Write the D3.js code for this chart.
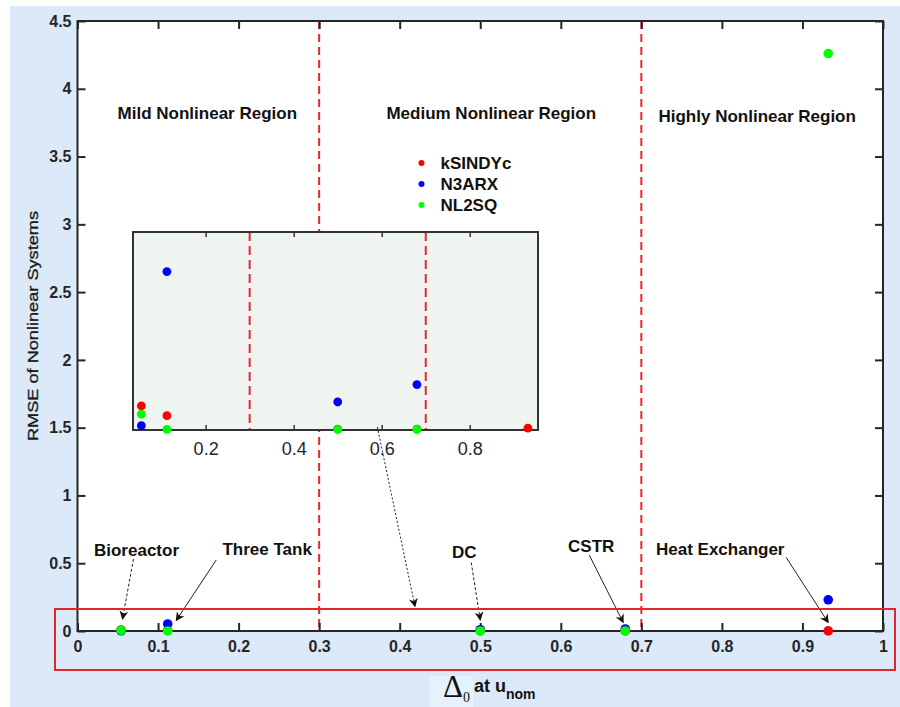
<!DOCTYPE html>
<html>
<head>
<meta charset="utf-8">
<script src="https://cdn.jsdelivr.net/npm/d3@7"></script>
<style>
body { margin: 0; background: #fff; }
svg { display: block; }
text { font-family: "Liberation Sans", Arial, Helvetica, sans-serif; fill: #262626; }
</style>
</head>
<body>
<div id="vis"></div>
<script>
var width = 900;
var height = 707;

// data
var systems = ['Bioreactor', 'Three Tank', 'DC', 'CSTR', 'Heat Exchanger'];
var delta0 = [0.054, 0.112, 0.5, 0.68, 0.932];
var methods = ['kSINDYc', 'N3ARX', 'NL2SQ'];
var kSINDYc = [0.0079, 0.0047, 0.0003, 0.0003, 0.0006];
var N3ARX = [0.0014, 0.052, 0.0092, 0.0149, 0.23];
var NL2SQ = [0.0052, 0.0002, 0.0002, 0.0002, 4.26];
var regionBounds = [0.3, 0.7];
var regionNames = ['Mild Nonlinear Region', 'Medium Nonlinear Region', 'Highly Nonlinear Region'];
var regionMid = [0.15, 0.5, 0.85];
var xTicks = [0, 0.1, 0.2, 0.3, 0.4, 0.5, 0.6, 0.7, 0.8, 0.9, 1];
var xTickLabels = ['0', '0.1', '0.2', '0.3', '0.4', '0.5', '0.6', '0.7', '0.8', '0.9', '1'];
var yTicks = [0, 0.5, 1, 1.5, 2, 2.5, 3, 3.5, 4, 4.5];
var yTickLabels = ['0', '0.5', '1', '1.5', '2', '2.5', '3', '3.5', '4', '4.5'];
var insetTicks = [0.2, 0.4, 0.6, 0.8];
var insetTickLabels = ['0.2', '0.4', '0.6', '0.8'];

var colors = ['#ff0000', '#0000ff', '#00ff00'];
var series = [kSINDYc, N3ARX, NL2SQ];

var svg = d3.select('#vis').append('svg')
    .attr('width', width)
    .attr('height', height);

// arrowheads
var defs = svg.append('defs');
defs.append('marker')
    .attr('id', 'arr')
    .attr('viewBox', '0 0 10 10')
    .attr('refX', 9).attr('refY', 5)
    .attr('markerUnits', 'userSpaceOnUse')
    .attr('markerWidth', 9).attr('markerHeight', 9)
    .attr('orient', 'auto')
    .append('path')
    .attr('d', 'M0,0 L10,5 L0,10 L3,5 Z')
    .attr('fill', '#111');

// page background
svg.append('rect')
    .attr('x', 10).attr('y', 6)
    .attr('width', width - 10).attr('height', height - 6)
    .attr('fill', '#dce9f8');

var x = d3.scaleLinear().domain([0, 1]).range([77.5, 883]);
var y = d3.scaleLinear().domain([0, 4.5]).range([631, 21]);

// plot area
svg.append('rect')
    .attr('x', x(0)).attr('y', y(4.5))
    .attr('width', x(1) - x(0)).attr('height', y(0) - y(4.5))
    .attr('fill', '#fff');

// region boundaries
svg.append('g').selectAll('line')
    .data(regionBounds)
    .enter().append('line')
    .attr('x1', function (d) { return x(d); })
    .attr('x2', function (d) { return x(d); })
    .attr('y1', y(4.5)).attr('y2', y(0))
    .attr('stroke', '#e8262c')
    .attr('stroke-width', 2)
    .attr('stroke-dasharray', '8,5');

// axes, ticks pointing in
function styleAxis(g) {
    g.select('.domain').remove();
    g.selectAll('.tick line').attr('stroke', '#262626').attr('stroke-width', 2);
    g.selectAll('.tick text')
        .attr('fill', '#262626')
        .style('font-size', '16px')
        .style('font-weight', 'bold');
}
svg.append('g')
    .attr('transform', 'translate(0,' + y(0) + ')')
    .call(d3.axisBottom(x).tickValues(xTicks)
        .tickFormat(function (d, i) { return xTickLabels[i]; })
        .tickSize(-8).tickPadding(10))
    .call(styleAxis);
svg.append('g')
    .attr('transform', 'translate(0,' + y(4.5) + ')')
    .call(d3.axisTop(x).tickValues(xTicks).tickFormat('').tickSize(-8))
    .call(styleAxis);
svg.append('g')
    .attr('transform', 'translate(' + x(0) + ',0)')
    .call(d3.axisLeft(y).tickValues(yTicks)
        .tickFormat(function (d, i) { return yTickLabels[i]; })
        .tickSize(-8).tickPadding(6))
    .call(styleAxis);
svg.append('g')
    .attr('transform', 'translate(' + x(1) + ',0)')
    .call(d3.axisRight(y).tickValues(yTicks).tickFormat('').tickSize(-8))
    .call(styleAxis);

svg.append('rect')
    .attr('x', x(0)).attr('y', y(4.5))
    .attr('width', x(1) - x(0)).attr('height', y(0) - y(4.5))
    .attr('fill', 'none')
    .attr('stroke', '#262626')
    .attr('stroke-width', 2);

// region names
var regionDx = [9, 11, -5];
var regionY = [118.5, 118.5, 122];
svg.append('g').selectAll('text')
    .data(regionNames)
    .enter().append('text')
    .attr('x', function (d, i) { return x(regionMid[i]) + regionDx[i]; })
    .attr('y', function (d, i) { return regionY[i]; })
    .attr('text-anchor', 'middle')
    .style('font-size', '17px')
    .style('font-weight', 'bold')
    .style('fill', '#111')
    .text(function (d) { return d; });

// main points
var points = [];
series.forEach(function (s, m) {
    s.forEach(function (v, i) {
        points.push({ m: m, x: delta0[i], v: v });
    });
});
svg.append('g').selectAll('circle')
    .data(points)
    .enter().append('circle')
    .attr('cx', function (d) { return x(d.x); })
    .attr('cy', function (d) { return y(d.v); })
    .attr('r', 4.8)
    .attr('fill', function (d) { return colors[d.m]; });

// legend
var legend = svg.append('g').selectAll('g')
    .data(methods)
    .enter().append('g')
    .attr('transform', function (d, i) { return 'translate(421.5,' + (163 + i * 21) + ')'; });
legend.append('circle')
    .attr('r', 3)
    .attr('fill', function (d, i) { return colors[i]; });
legend.append('text')
    .attr('x', 19).attr('dy', '0.36em')
    .style('font-size', '17px')
    .style('font-weight', 'bold')
    .style('fill', '#111')
    .text(function (d) { return d; });

// inset zoom of the lower band
var xi = d3.scaleLinear().domain([0.035, 0.955]).range([133, 538]);
var yi = d3.scaleLinear().domain([0, 0.065]).range([430, 232]);
var inset = svg.append('g');
inset.append('rect')
    .attr('x', xi.range()[0]).attr('y', yi.range()[1])
    .attr('width', xi.range()[1] - xi.range()[0])
    .attr('height', yi.range()[0] - yi.range()[1])
    .attr('fill', '#eef5f1');
inset.append('g').selectAll('line')
    .data(regionBounds)
    .enter().append('line')
    .attr('x1', function (d) { return xi(d); })
    .attr('x2', function (d) { return xi(d); })
    .attr('y1', yi.range()[1]).attr('y2', yi.range()[0])
    .attr('stroke', '#e8262c')
    .attr('stroke-width', 2)
    .attr('stroke-dasharray', '9,5');
inset.append('g')
    .attr('transform', 'translate(0,' + yi(0) + ')')
    .call(d3.axisBottom(xi).tickValues(insetTicks)
        .tickFormat(function (d, i) { return insetTickLabels[i]; })
        .tickSize(-5).tickPadding(12))
    .call(function (g) {
        g.select('.domain').remove();
        g.selectAll('.tick line').attr('stroke', '#333').attr('stroke-width', 1.5);
        g.selectAll('.tick text').attr('fill', '#333').style('font-size', '18px');
    });
inset.append('g')
    .attr('transform', 'translate(0,' + yi.range()[1] + ')')
    .call(d3.axisTop(xi).tickValues(insetTicks).tickFormat('').tickSize(-5))
    .call(function (g) {
        g.select('.domain').remove();
        g.selectAll('.tick line').attr('stroke', '#333').attr('stroke-width', 1.5);
    });
inset.append('rect')
    .attr('x', xi.range()[0]).attr('y', yi.range()[1])
    .attr('width', xi.range()[1] - xi.range()[0])
    .attr('height', yi.range()[0] - yi.range()[1])
    .attr('fill', 'none')
    .attr('stroke', '#333')
    .attr('stroke-width', 2);
inset.append('g').selectAll('circle')
    .data(points.filter(function (d) { return d.v <= yi.domain()[1]; }))
    .enter().append('circle')
    .attr('cx', function (d) { return xi(d.x); })
    .attr('cy', function (d) { return yi(d.v); })
    .attr('r', 4.4)
    .attr('fill', function (d) { return colors[d.m]; });

// system annotations: tip offset from the point, label offset from tip, arrow start offset from label
var annot = [
    { tdx: 1.5, tdy: -12, lx: 14, ly: -63, sx: -3, sy: 3, dash: '3,2' },
    { tdx: 8.5, tdy: -10.5, lx: 91, ly: -65.5, sx: -51, sy: 5, dash: null },
    { tdx: 0, tdy: -11, lx: -16, ly: -62, sx: 7, sy: 4.5, dash: '3,2' },
    { tdx: -2, tdy: -8.5, lx: -32, ly: -71, sx: -2, sy: 3.5, dash: null },
    { tdx: 0, tdy: -8.5, lx: -108, ly: -67.5, sx: 66, sy: 2.5, dash: null }
];
var ann = svg.append('g');
systems.forEach(function (name, i) {
    var a = annot[i];
    var tx = x(delta0[i]) + a.tdx, ty = y(0) + a.tdy;
    var lx = tx + a.lx, ly = ty + a.ly;
    ann.append('text')
        .attr('x', lx).attr('y', ly)
        .attr('text-anchor', 'middle')
        .style('font-size', '17px')
        .style('font-weight', 'bold')
        .style('fill', '#111')
        .text(name);
    ann.append('line')
        .attr('x1', lx + a.sx).attr('y1', ly + a.sy)
        .attr('x2', tx).attr('y2', ty)
        .attr('stroke', '#222')
        .attr('stroke-width', 1)
        .attr('stroke-dasharray', a.dash)
        .attr('marker-end', 'url(#arr)');
});

// arrow from inset to the zoomed band
ann.append('line')
    .attr('x1', xi(0.59)).attr('y1', yi(0) - 3)
    .attr('x2', x(0.419)).attr('y2', 606.5)
    .attr('stroke', '#222')
    .attr('stroke-width', 1)
    .attr('stroke-dasharray', '2,2')
    .attr('marker-end', 'url(#arr)');

// red band around the x axis
svg.append('rect')
    .attr('x', 55).attr('y', 609)
    .attr('width', 840).attr('height', 61)
    .attr('fill', 'none')
    .attr('stroke', '#e0262a')
    .attr('stroke-width', 2);

// y label
svg.append('text')
    .attr('transform', 'translate(38,326) rotate(-90)')
    .attr('text-anchor', 'middle')
    .attr('textLength', 230)
    .attr('lengthAdjust', 'spacingAndGlyphs')
    .style('font-size', '15px')
    .style('fill', '#1a1a1a')
    .style('stroke', '#1a1a1a')
    .style('stroke-width', 0.3)
    .text('RMSE of Nonlinear Systems');

// x label
svg.append('rect')
    .attr('x', 430).attr('y', 676)
    .attr('width', 43).attr('height', 31)
    .attr('fill', '#e5f1fc');
var xl = svg.append('text')
    .attr('x', 443).attr('y', 697)
    .style('fill', '#111');
xl.append('tspan')
    .style('font-family', '"Liberation Serif", "Times New Roman", serif')
    .style('font-size', '31px')
    .text('\u0394');
xl.append('tspan')
    .attr('dy', 5)
    .style('font-family', '"Liberation Serif", "Times New Roman", serif')
    .style('font-size', '14px')
    .text('0');
xl.append('tspan')
    .attr('dx', 4).attr('dy', -10)
    .style('font-size', '18px')
    .style('font-weight', 'bold')
    .text('at u');
xl.append('tspan')
    .attr('dy', 6.5)
    .style('font-size', '14px')
    .style('font-weight', 'bold')
    .text('nom');
</script>
</body>
</html>
